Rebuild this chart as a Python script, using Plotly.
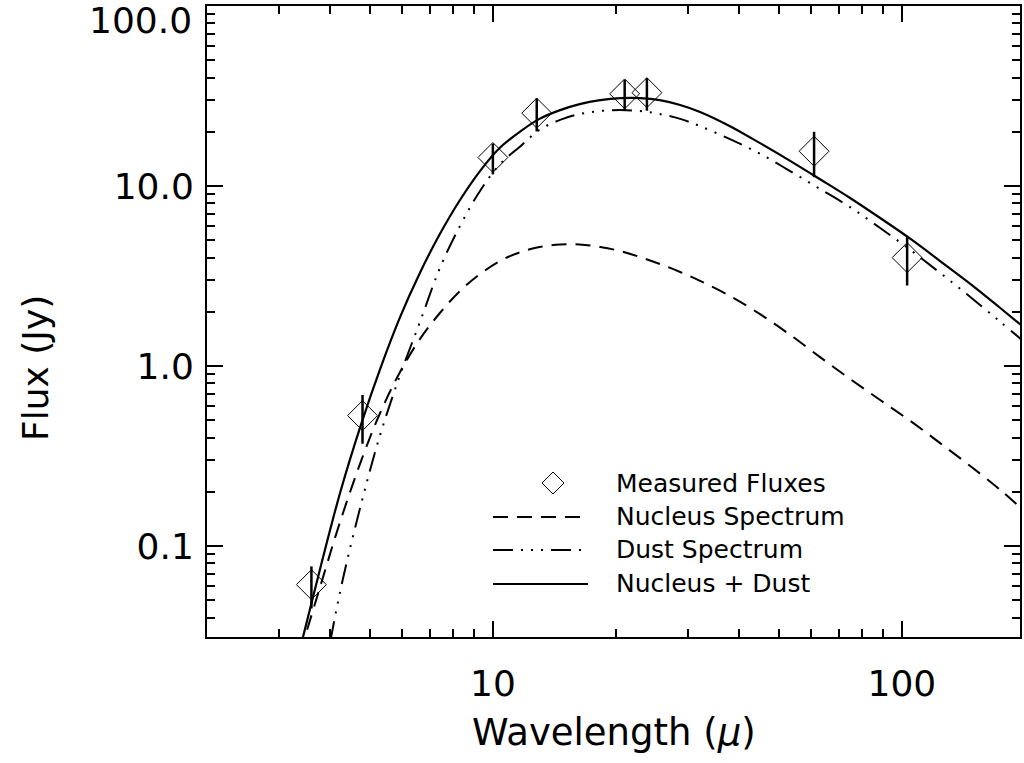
import math
import plotly.graph_objects as go

# ---------------- data ----------------
# Measured fluxes (wavelength in micron, flux in Jy, 1-sigma error)
wave_obs = [3.6, 4.8, 10.0, 12.8, 21.0, 23.8, 61.0, 103.0]
flux_obs = [0.061, 0.53, 14.4, 25.4, 32.5, 33.0, 15.6, 4.0]
err_obs = [0.016, 0.16, 2.8, 5.3, 6.4, 6.8, 4.4, 1.2]

# Model curves on a common wavelength grid (micron)
wave_model = [3.38, 3.78, 4.23, 4.79, 5.30, 5.93, 6.63, 7.42, 8.31, 9.30,
              10.4, 11.7, 13.0, 14.6, 16.3, 18.3, 20.5, 22.9, 25.6, 28.7,
              32.1, 38.0, 45.0, 53.3, 63.1, 74.7, 88.5, 105.0, 124.0, 147.0,
              174.0, 200.0]
# Nucleus spectrum (dashed), Jy
flux_nucleus = [0.0255, 0.0592, 0.136, 0.308, 0.548, 0.927, 1.41, 1.97, 2.61, 3.24,
                3.83, 4.30, 4.58, 4.73, 4.73, 4.58, 4.35, 4.03, 3.69, 3.33,
                2.97, 2.45, 1.94, 1.49, 1.12, 0.847, 0.647, 0.494, 0.373, 0.278,
                0.205, 0.155]
# Dust spectrum (dash-dot-dot-dot), Jy
flux_dust = [None, 0.0143, 0.0555, 0.180, 0.414, 0.891, 1.75, 3.50, 6.00, 9.38,
             13.2, 16.7, 20.5, 23.3, 25.1, 26.1, 26.4, 26.1, 25.1, 23.6,
             21.5, 18.2, 15.1, 12.1, 9.62, 7.64, 5.84, 4.41, 3.29, 2.42,
             1.76, 1.35]
# Nucleus + Dust (solid), Jy
flux_total = [0.0271, 0.0745, 0.197, 0.494, 0.962, 1.87, 3.29, 5.41, 8.36, 12.1,
              16.3, 20.2, 23.6, 26.4, 28.5, 30.0, 30.8, 30.8, 30.0, 28.2,
              25.8, 21.5, 17.3, 13.8, 10.9, 8.58, 6.64, 5.08, 3.83, 2.86,
              2.10, 1.62]

# Axis ticks
x_major = [10, 100]
x_major_text = ["10", "100"]
x_minor = [3, 4, 5, 6, 7, 8, 9, 20, 30, 40, 50, 60, 70, 80, 90]
y_major = [0.1, 1, 10, 100]
y_major_text = ["0.1", "1.0", "10.0", ""]
y_minor = [0.04, 0.05, 0.06, 0.07, 0.08, 0.09,
           0.2, 0.3, 0.4, 0.5, 0.6, 0.7, 0.8, 0.9,
           2, 3, 4, 5, 6, 7, 8, 9,
           20, 30, 40, 50, 60, 70, 80, 90]

legend_labels = ["Measured Fluxes", "Nucleus Spectrum", "Dust Spectrum", "Nucleus + Dust"]

# ---------------- figure ----------------
W, H = 1024, 763
L, R, T, B = 207, 4, 6, 126
PW, PH = W - L - R, H - T - B
FONT = "DejaVu Sans"

DASH_NUC = "15px,9px"
DASH_DUST = "20px,8px,2px,8px,2px,8px,2px,8px"


def px(xp):
    return (xp - L) / PW


def py(yp):
    return (H - B - yp) / PH


fig = go.Figure()

fig.add_trace(go.Scatter(x=wave_model, y=flux_nucleus, mode="lines", line_shape="spline",
                         line=dict(color="black", width=2, dash=DASH_NUC),
                         name="Nucleus Spectrum", showlegend=False, hoverinfo="skip"))
fig.add_trace(go.Scatter(x=wave_model, y=flux_dust, mode="lines", line_shape="spline",
                         line=dict(color="black", width=2, dash=DASH_DUST),
                         name="Dust Spectrum", showlegend=False, hoverinfo="skip"))
fig.add_trace(go.Scatter(x=wave_model, y=flux_total, mode="lines", line_shape="spline",
                         line=dict(color="black", width=2.2),
                         name="Nucleus + Dust", showlegend=False, hoverinfo="skip"))
fig.add_trace(go.Scatter(x=wave_obs, y=flux_obs, mode="markers",
                         marker=dict(symbol="diamond-open", size=23,
                                     color="black", line=dict(color="black", width=1)),
                         error_y=dict(type="data", array=err_obs, visible=True,
                                      width=0, thickness=2.5, color="black"),
                         name="Measured Fluxes", showlegend=False))

axis_common = dict(
    type="log", showgrid=False, zeroline=False, automargin=False,
    showline=True, linecolor="black", linewidth=2, mirror="allticks",
    ticks="inside", ticklen=16, tickwidth=2, tickcolor="black",
    tickmode="array",
    tickfont=dict(family=FONT, size=36, color="black"),
)

fig.update_xaxes(**axis_common, range=[math.log10(2.0), math.log10(2.0) + PW / 409.0],
                 tickvals=x_major, ticktext=x_major_text, ticklabelstandoff=14,
                 minor=dict(ticks="inside", ticklen=8, tickwidth=2, tickcolor="black",
                            tickvals=x_minor, showgrid=False))
fig.update_yaxes(**axis_common, range=[2.0 - PH / 180.0, 2.0],
                 tickvals=y_major, ticktext=y_major_text, ticklabelstandoff=4,
                 minor=dict(ticks="inside", ticklen=8, tickwidth=2, tickcolor="black",
                            tickvals=y_minor, showgrid=False))

annotations = [
    dict(text="100.0", xref="paper", yref="paper", x=px(194), y=py(21),
         xanchor="right", yanchor="middle", showarrow=False,
         font=dict(family=FONT, size=36, color="black")),
    dict(text="Wavelength (<i>μ</i>)", xref="paper", yref="paper", x=px(614), y=py(732),
         xanchor="center", yanchor="middle", showarrow=False,
         font=dict(family=FONT, size=37, color="black")),
    dict(text="Flux (Jy)", xref="paper", yref="paper", x=px(35), y=py(368),
         xanchor="center", yanchor="middle", showarrow=False, textangle=-90,
         font=dict(family=FONT, size=36, color="black")),
]

# manual legend (layout decoration)
leg_rows_y = [483, 516, 549, 583]
for lab, yy in zip(legend_labels, leg_rows_y):
    annotations.append(dict(text=lab, xref="paper", yref="paper", x=px(614), y=py(yy),
                            xanchor="left", yanchor="middle", showarrow=False,
                            font=dict(family=FONT, size=25, color="black")))

shapes = []
cx, cy, hd = 553, 483, 11
shapes.append(dict(type="path", xref="paper", yref="paper",
                   path=f"M {px(cx - hd)} {py(cy)} L {px(cx)} {py(cy - hd)} L {px(cx + hd)} {py(cy)} "
                        f"L {px(cx)} {py(cy + hd)} Z",
                   line=dict(color="black", width=1)))
for yy, dsh in zip(leg_rows_y[1:], [DASH_NUC, DASH_DUST, "solid"]):
    shapes.append(dict(type="line", xref="paper", yref="paper",
                       x0=px(493), x1=px(588), y0=py(yy + 1), y1=py(yy + 1),
                       line=dict(color="black", width=2, dash=dsh)))

fig.update_layout(
    width=W, height=H,
    margin=dict(l=L, r=R, t=T, b=B),
    plot_bgcolor="white", paper_bgcolor="white",
    showlegend=False,
    annotations=annotations,
    shapes=shapes,
    font=dict(family=FONT, color="black"),
)

fig.write_html("out.html", config={"displayModeBar": False},
               post_script="document.body.style.margin='0px';")
